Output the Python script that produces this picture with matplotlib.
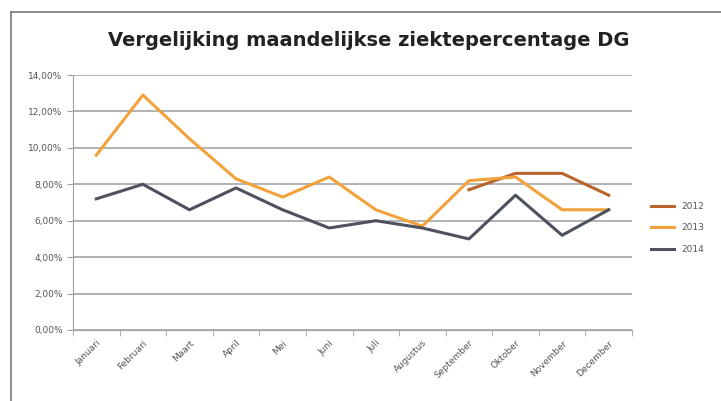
import numpy as np
import matplotlib.pyplot as plt
from matplotlib.ticker import FuncFormatter

months = ["Januari", "Februari", "Maart", "April", "Mei", "Juni", "Juli",
          "Augustus", "September", "Oktober", "November", "December"]
years = ["2012", "2013", "2014"]
ziekte2012 = [np.nan] * 8 + [7.7, 8.6, 8.6, 7.4]
ziekte2013 = [9.6, 12.9, 10.5, 8.3, 7.3, 8.4, 6.6, 5.7, 8.2, 8.4, 6.6, 6.6]
ziekte2014 = [7.2, 8.0, 6.6, 7.8, 6.6, 5.6, 6.0, 5.6, 5.0, 7.4, 5.2, 6.6]
colors = ["#B8652E", "#F2A23A", "#4D525E"]

fig = plt.figure(figsize=(7.21, 4.01), dpi=100)
ax = fig.add_axes([73 / 721, 1 - 330 / 401, (632 - 73) / 721, (330 - 75) / 401])

x = np.arange(len(months))
for serie, col, lab in zip([ziekte2012, ziekte2013, ziekte2014], colors, years):
    ax.plot(x, serie, color=col, linewidth=2.2, label=lab)

ax.set_xlim(-0.5, len(months) - 0.5)
ax.set_ylim(0, 14)
ax.set_yticks(np.arange(0, 15, 2))
ax.yaxis.set_major_formatter(FuncFormatter(lambda v, p: "{:.2f}%".format(v).replace(".", ",")))
ax.set_xticks(x)
ax.set_xticklabels(months, rotation=45, ha="right", rotation_mode="anchor")
ax.set_xticks(np.arange(-0.5, len(months), 1), minor=True)
ax.tick_params(axis="x", which="major", length=0, pad=6, labelsize=6.5, colors="#555555")
ax.tick_params(axis="x", which="minor", length=4, color="#A0A0A0")
ax.tick_params(axis="y", length=4, color="#A0A0A0", labelsize=6.5, labelcolor="#555555")

# Grid
ax.grid(axis="y", color="#A6A6A6", linewidth=1.2)
ax.set_axisbelow(True)
for s in ["top", "right"]:
    ax.spines[s].set_visible(False)
ax.spines["left"].set_color("#A0A0A0")
ax.spines["bottom"].set_color("#A0A0A0")

fig.text(0.512, 1 - 41 / 401, "Vergelijking maandelijkse ziektepercentage DG",
         ha="center", va="center", fontsize=14, fontweight="bold", color="#222222")

leg = ax.legend(loc="center left", bbox_to_anchor=(1.02, 0.4), frameon=False,
                fontsize=6.5, handlelength=2.5, labelspacing=1.4)
for t in leg.get_texts():
    t.set_color("#555555")

# frame lines (top and left only, rest is cut off)
fig.add_artist(plt.Line2D([11 / 721, 11 / 721], [0, 1 - 12 / 401], color="#777777", linewidth=1.2))
fig.add_artist(plt.Line2D([11 / 721, 1], [1 - 12 / 401, 1 - 12 / 401], color="#777777", linewidth=1.2))

plt.savefig("out.png")
